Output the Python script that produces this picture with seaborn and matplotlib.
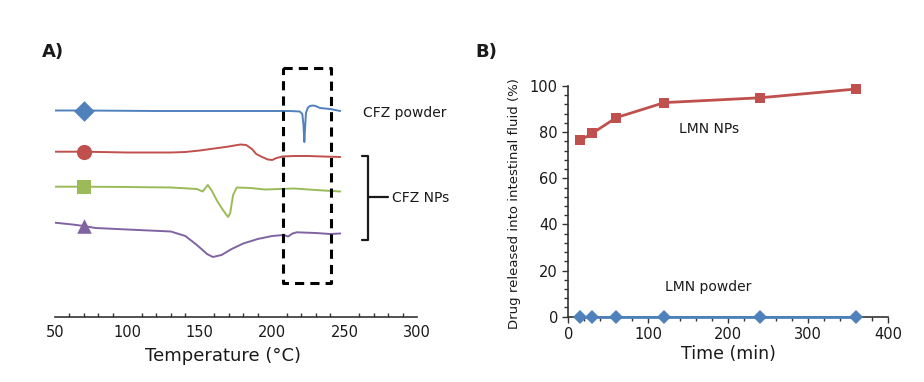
import pandas
import numpy
import matplotlib
matplotlib.use("Agg")
import matplotlib.pyplot as plt
from matplotlib.ticker import MultipleLocator
import seaborn

seaborn.set_style("white")
plt.rcParams['font.family'] = ['DejaVu Sans']

# dados do painel A (DSC, curvas deslocadas, unidades arbitrarias)
temp_blue = [50, 70, 120, 180, 212, 219, 220.8, 221.6, 222.2, 222.7, 223.3, 224.5, 226, 228, 230, 233, 240, 247]
flow_blue = [206.5, 206.5, 206, 206, 206, 205.5, 203, 192, 175, 189, 204, 209, 211, 211.5, 211, 209, 208, 206]

temp_red = [50, 70, 100, 130, 140, 150, 160, 170, 178, 182, 186, 189, 193, 197, 200, 203, 207, 215, 225, 235, 247]
flow_red = [165.3, 165.3, 164.5, 164.5, 165, 166.5, 168.5, 170.5, 172.5, 172, 168, 163, 160, 157.5, 157, 159, 160.5, 161, 161, 160.5, 160]

temp_green = [50, 70, 100, 130, 148, 152, 155.5, 158, 162, 166, 169.5, 171, 173, 175.5, 185, 195, 205, 215, 230, 247]
flow_green = [130.3, 130.3, 130, 129.5, 128, 125.5, 132, 127, 116, 107, 100, 104, 122, 129.5, 129, 127.5, 128, 128.5, 127, 125.5]

temp_purple = [50, 62, 70, 78, 100, 130, 140, 148, 155, 159, 165, 172, 180, 190, 200, 208, 211, 214, 217, 230, 240, 247]
flow_purple = [94.3, 92.5, 91, 89, 87.5, 85.5, 81, 72, 63, 60, 62, 68, 73.5, 78, 81, 82, 80.5, 83.5, 84.7, 84, 83, 83.5]

# dados do painel B (liberacao)
time_min = [15, 30, 60, 120, 240, 360]
release_nps = [76.5, 79.5, 86.3, 92.8, 94.9, 98.7]
release_powder = [0, 0, 0, 0, 0, 0]

c_blue = '#4F81BD'
c_red = '#C0504D'
c_green = '#9BBB59'
c_purple = '#8064A2'
c_text = '#1a1a1a'

fig = plt.figure(figsize=(9.24, 3.82), dpi=100)

# ---------- painel A ----------
axA = fig.add_axes([55/924, 65/382, 362/924, 277/382])
curves = [
    (temp_blue, flow_blue, c_blue, 'D', 110),
    (temp_red, flow_red, c_red, 'o', 120),
    (temp_green, flow_green, c_green, 's', 100),
    (temp_purple, flow_purple, c_purple, '^', 110),
]
for t, f, col, mk, ms in curves:
    df = pandas.DataFrame({'T': t, 'f': f})
    seaborn.lineplot(x='T', y='f', data=df, ax=axA, color=col, lw=1.4,
                     estimator=None, sort=False)
    mdf = df[df['T'] == 70]
    seaborn.scatterplot(x='T', y='f', data=mdf, ax=axA, color=col, marker=mk,
                        s=ms, edgecolor=col, linewidth=0, zorder=5)

# caixa tracejada
axA.plot([207.5, 240.6, 240.6, 207.5, 207.5], [249, 249, 34, 34, 249],
         color='black', lw=2.2, ls=(0, (3, 2)))

# chave CFZ NPs
axA.plot([262, 266.2, 266.2, 262], [161, 161, 77, 77], color=c_text, lw=1.6,
         clip_on=False)
axA.plot([266.2, 280], [120, 120], color=c_text, lw=1.6, clip_on=False)
axA.text(262.7, 204, 'CFZ powder', fontsize=10, color=c_text, va='center', ha='left')
axA.text(282.7, 119.3, 'CFZ NPs', fontsize=10, color=c_text, va='center', ha='left')

axA.set_xlim(50, 300)
axA.set_ylim(0, 277)
axA.set_yticks([])
axA.set_ylabel('')
for s in ['top', 'right', 'left']:
    axA.spines[s].set_visible(False)
axA.spines['bottom'].set_color('#333333')
axA.spines['bottom'].set_linewidth(1.2)
axA.xaxis.set_major_locator(MultipleLocator(50))
axA.xaxis.set_minor_locator(MultipleLocator(10))
axA.tick_params(axis='x', which='both', direction='in', colors='#333333',
                labelcolor=c_text, labelsize=10.5, pad=6)
axA.tick_params(axis='x', which='major', length=4, width=1)
axA.tick_params(axis='x', which='minor', length=3, width=1, bottom=True)
axA.set_xlabel('Temperature (°C)', fontsize=13, color=c_text)
axA.xaxis.set_label_coords(0.463, -0.108)
axA.xaxis.label.set_va('top')

# ---------- painel B ----------
axB = fig.add_axes([568.3/924, 65.3/382, 320/924, 230.7/382])
dfB = pandas.DataFrame({
    'Time': time_min + time_min,
    'Release': release_nps + release_powder,
    'Form': ['LMN NPs'] * len(time_min) + ['LMN powder'] * len(time_min),
})
seaborn.lineplot(x='Time', y='Release', hue='Form', style='Form', data=dfB, ax=axB,
                 palette={'LMN NPs': c_red, 'LMN powder': c_blue},
                 markers={'LMN NPs': 's', 'LMN powder': 'D'}, dashes=False,
                 markersize=7.5, markeredgewidth=0, lw=2, legend=False,
                 clip_on=False, zorder=4)
axB.set_xlim(0, 400)
axB.set_ylim(0, 100)
for s in ['top', 'right']:
    axB.spines[s].set_visible(False)
for s in ['left', 'bottom']:
    axB.spines[s].set_color('#333333')
    axB.spines[s].set_linewidth(1.2)
axB.xaxis.set_major_locator(MultipleLocator(100))
axB.xaxis.set_minor_locator(MultipleLocator(20))
axB.yaxis.set_major_locator(MultipleLocator(20))
axB.yaxis.set_minor_locator(MultipleLocator(4))
axB.tick_params(which='both', direction='out', colors='#333333',
                labelcolor=c_text, labelsize=10.5, left=True, bottom=True)
axB.tick_params(which='major', length=4, width=1)
axB.tick_params(which='minor', length=3, width=1)
axB.text(176, 81.4, 'LMN NPs', fontsize=10, color=c_text, ha='center', va='center')
axB.text(174.6, 13, 'LMN powder', fontsize=10, color=c_text, ha='center', va='center')
axB.set_xlabel('Time (min)', fontsize=12.5, color=c_text, labelpad=2)
axB.set_ylabel('Drug released into intestinal fluid (%)', fontsize=9.5, color=c_text)
axB.yaxis.set_label_coords(-0.148, 0.49)

fig.text(42/924, 1 - 52/382, 'A)', fontsize=13, fontweight='bold', color=c_text,
         ha='left', va='center')
fig.text(475/924, 1 - 52/382, 'B)', fontsize=13, fontweight='bold', color=c_text,
         ha='left', va='center')

fig.savefig('out.png', dpi=100)
